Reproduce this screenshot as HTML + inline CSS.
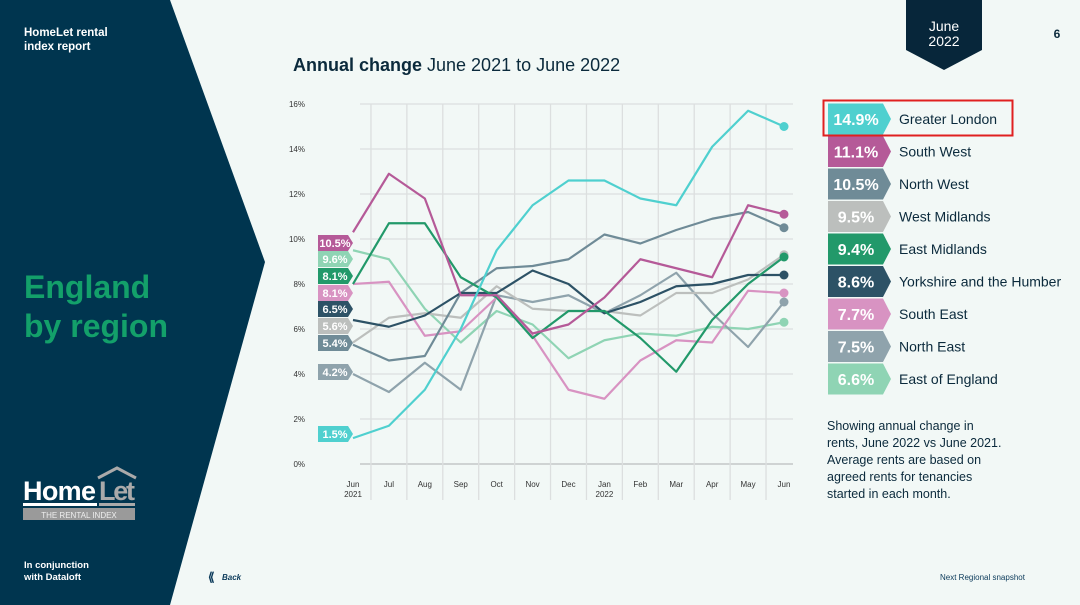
<!DOCTYPE html>
<html><head><meta charset="utf-8">
<style>
html,body{margin:0;padding:0;}
body{width:1080px;height:605px;overflow:hidden;background:#f2f8f6;font-family:"Liberation Sans","Noto Sans CJK SC",sans-serif;position:relative;}
.abs{position:absolute;}
</style></head><body>
<svg class="abs" style="left:0;top:0" width="1080" height="605">
  <polygon points="0,0 170,0 265,262 170,605 0,605" fill="#00354f"/>
  <polygon points="906,0 982,0 982,50 944,70 906,50" fill="#07263a"/>
  <text x="944" y="31" fill="#fff" font-size="14" text-anchor="middle">June</text>
  <text x="944" y="46" fill="#fff" font-size="14" text-anchor="middle">2022</text>
  <text x="1057" y="38" fill="#0b2a3c" font-size="12" font-weight="bold" text-anchor="middle">6</text>
  <text x="24" y="36" fill="#fff" font-size="11.5" font-weight="bold">HomeLet rental</text>
  <text x="24" y="50" fill="#fff" font-size="11.5" font-weight="bold">index report</text>
  <text x="24" y="298" fill="#13a06a" font-size="32" font-weight="bold">England</text>
  <text x="24" y="337" fill="#13a06a" font-size="32" font-weight="bold">by region</text>
  <g>
    <text x="23" y="500" fill="#fff" font-size="27" font-weight="bold" textLength="73">Home</text>
    <text x="99" y="500" fill="#aaa" font-size="27" font-weight="bold" textLength="36">Let</text>
    <polyline points="98,478 117,468 136,478" fill="none" stroke="#aaa" stroke-width="3"/>
    <rect x="23" y="503" width="74" height="3" fill="#fff"/>
    <rect x="99" y="503" width="36" height="3" fill="#aaa"/>
    <rect x="23" y="508" width="112" height="12" fill="#9a9a9a"/>
    <text x="79" y="518" fill="#eee" font-size="8" text-anchor="middle">THE RENTAL INDEX</text>
  </g>
  <text x="24" y="568" fill="#fff" font-size="9.5" font-weight="bold">In conjunction</text>
  <text x="24" y="580" fill="#fff" font-size="9.5" font-weight="bold">with Dataloft</text>
  <text x="208" y="581" fill="#0b3a5a" font-size="12" font-weight="bold">⟪</text>
  <text x="222" y="580" fill="#0b3a5a" font-size="8" font-style="italic" font-weight="bold">Back</text>
  <text x="293" y="71" fill="#0b2a3c" font-size="18"><tspan font-weight="bold">Annual change</tspan> June 2021 to June 2022</text>
  <g id="chart"></g>
  <g id="legend"></g>
  <rect x="823.5" y="100.5" width="189" height="35" fill="none" stroke="#e02020" stroke-width="2"/>
  <g font-size="12.5" fill="#0b2a3c">
    <text x="827" y="430">Showing annual change in</text>
    <text x="827" y="447">rents, June 2022 vs June 2021.</text>
    <text x="827" y="464">Average rents are based on</text>
    <text x="827" y="481">agreed rents for tenancies</text>
    <text x="827" y="498">started in each month.</text>
  </g>
  <text x="940" y="580" fill="#0b3a5a" font-size="8">Next  Regional snapshot</text>
</svg>
<script>
const months = ["Jun","Jul","Aug","Sep","Oct","Nov","Dec","Jan","Feb","Mar","Apr","May","Jun"];
const monthSub = ["2021","","","","","","","2022","","","","",""];
const yTicks = [0,2,4,6,8,10,12,14,16];
const names = ["Greater London","South West","North West","West Midlands","East Midlands","Yorkshire and the Humber","South East","North East","East of England"];
const colors = ["#4fd0cf","#b55a98","#6f8b97","#bcbfbd","#22996a","#2d5266","#d893c2","#8fa3ac","#8fd4b4"];
const legendVals = ["14.9%","11.1%","10.5%","9.5%","9.4%","8.6%","7.7%","7.5%","6.6%"];
const greaterLondon = [1.15,1.7,3.3,6.0,9.5,11.5,12.6,12.6,11.8,11.5,14.1,15.7,15.0];
const southWest = [10.3,12.9,11.8,7.5,7.5,5.8,6.2,7.4,9.1,8.7,8.3,11.5,11.1];
const northWest = [5.3,4.6,4.8,7.6,8.7,8.8,9.1,10.2,9.8,10.4,10.9,11.2,10.5];
const westMidlands = [5.4,6.5,6.7,6.5,7.9,6.9,6.8,6.8,6.6,7.6,7.6,8.2,9.3];
const eastMidlands = [8.0,10.7,10.7,8.3,7.4,5.6,6.8,6.8,5.6,4.1,6.4,8.0,9.2];
const yorkshire = [6.4,6.1,6.6,7.6,7.6,8.6,8.0,6.7,7.2,7.9,8.0,8.4,8.4];
const southEast = [8.0,8.1,5.7,5.9,7.4,5.7,3.3,2.9,4.6,5.5,5.4,7.7,7.6];
const northEast = [4.0,3.2,4.5,3.3,7.5,7.2,7.5,6.7,7.5,8.5,6.7,5.2,7.2];
const eastEngland = [9.5,9.1,6.9,5.4,6.8,6.2,4.7,5.5,5.8,5.7,6.1,6.0,6.3];
const series = [greaterLondon,southWest,northWest,westMidlands,eastMidlands,yorkshire,southEast,northEast,eastEngland];
const startLabels = ["1.5%","10.5%","5.4%","5.6%","8.1%","6.5%","8.1%","4.2%","9.6%"];
const startLabelY = [434,243,343,326,276,309,293,372,259];

const NS="http://www.w3.org/2000/svg";
const X0=353, X1=784, Y0=464, Y1=104;
const xs = i => X0 + (X1-X0)*i/(months.length-1);
const ys = v => Y0 - (Y0-Y1)*v/16;
const chart=document.getElementById('chart');
function mk(tag,attrs,parent){const e=document.createElementNS(NS,tag);for(const k in attrs)e.setAttribute(k,attrs[k]);(parent||chart).appendChild(e);return e;}

yTicks.forEach(t=>{
  const l=mk('line',{x1:360,x2:793,y1:ys(t),y2:ys(t),stroke:t===0?'#cfd3d3':'#dcdfdf','stroke-width':t===0?2:1.3});
  
  
  const tx=mk('text',{x:305,y:ys(t)+3,'font-size':8,fill:'#333','text-anchor':'end'});
  tx.textContent=t+'%';
  
  
});
for(let i=0;i<months.length-1;i++){
  const gx=(xs(i)+xs(i+1))/2;
  const l=mk('line',{x1:gx,x2:gx,y1:Y1,y2:500,stroke:'#dcdfdf','stroke-width':1.3});
  
  
}
months.forEach((m,i)=>{
  const t=mk('text',{x:xs(i),y:487,'font-size':8,fill:'#333','text-anchor':'middle'});
  t.textContent=m;
  
  
  if(monthSub[i]){const s=mk('text',{x:xs(i),y:497,'font-size':8,fill:'#333','text-anchor':'middle'});s.textContent=monthSub[i];
  
  }
});
const drawOrder=[8,7,3,6,2,5,4,1,0];
drawOrder.forEach(k=>{
  const d=series[k];
  const p=mk('polyline',{points:d.map((v,i)=>xs(i)+','+ys(v)).join(' '),fill:'none',stroke:colors[k],'stroke-width':2.2,'stroke-linejoin':'round'});
  
  
  const c=mk('circle',{cx:xs(d.length-1),cy:ys(d[d.length-1]),r:4.5,fill:colors[k]});
  
  
});
series.forEach((d,k)=>{
  const cy=startLabelY[k];
  const g=mk('g',{});
  
  
  mk('polygon',{points:`318,${cy-8} 348,${cy-8} 353,${cy} 348,${cy+8} 318,${cy+8}`,fill:colors[k]},g);
  const t=mk('text',{x:335,y:cy+4,'font-size':11,'font-weight':'bold',fill:'#fff','text-anchor':'middle'},g);
  t.textContent=startLabels[k];
});
const lg=document.getElementById('legend');
names.forEach((n,k)=>{
  const cy=119+k*32.5;
  const g=mk('g',{},lg);
  
  
  mk('polygon',{points:`828,${cy-15.5} 883,${cy-15.5} 891,${cy} 883,${cy+15.5} 828,${cy+15.5}`,fill:colors[k]},g);
  const v=mk('text',{x:856,y:cy+6,'font-size':16,'font-weight':'bold',fill:'#fff','text-anchor':'middle'},g);
  v.textContent=legendVals[k];
  const t=mk('text',{x:899,y:cy+5,'font-size':14,fill:'#0b2a3c'},g);
  t.textContent=n;
});
</script>
</body></html>
